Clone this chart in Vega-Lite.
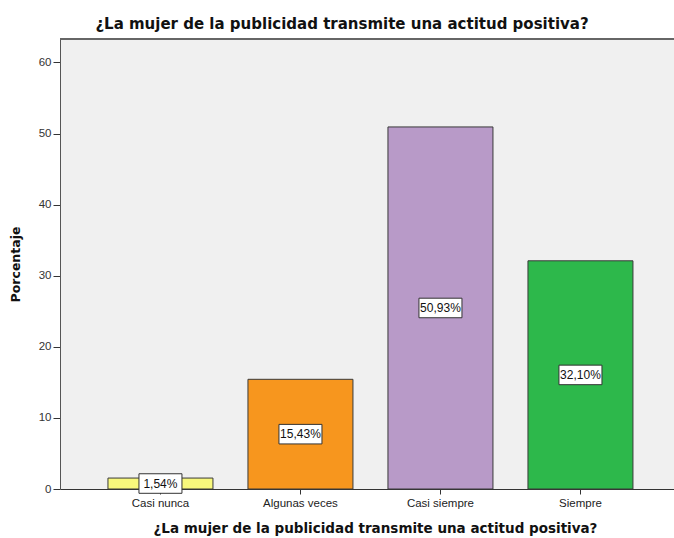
{
  "$schema": "https://vega.github.io/schema/vega-lite/v6.json",
  "autosize": "none",
  "width": 614,
  "height": 450,
  "padding": {"left": 60, "top": 39, "right": 0, "bottom": 49},
  "background": "white",
  "title": {
    "text": "¿La mujer de la publicidad transmite una actitud positiva?",
    "font": "DejaVu Sans",
    "fontSize": 15,
    "fontWeight": "bold",
    "color": "#111",
    "anchor": "middle",
    "dx": -25,
    "offset": 6
  },
  "data": {
    "values": [
      {"cat": "Casi nunca", "pct": 1.54, "label": "1,54%"},
      {"cat": "Algunas veces", "pct": 15.43, "label": "15,43%"},
      {"cat": "Casi siempre", "pct": 50.93, "label": "50,93%"},
      {"cat": "Siempre", "pct": 32.10, "label": "32,10%"}
    ]
  },
  "transform": [{"calculate": "datum.pct / 2", "as": "mid"}],
  "encoding": {
    "x": {
      "field": "cat",
      "type": "nominal",
      "sort": ["Casi nunca", "Algunas veces", "Casi siempre", "Siempre"],
      "scale": {"paddingInner": 0.25, "paddingOuter": 0.325, "align": 0.527, "range": [0, 616]},
      "axis": {
        "title": "¿La mujer de la publicidad transmite una actitud positiva?",
        "titleFont": "DejaVu Sans",
        "titleFontSize": 13.5,
        "titleFontWeight": "bold",
        "titleColor": "#111",
        "titlePadding": 13,
        "titleX": 315,
        "labelAngle": 0,
        "labelFont": "Liberation Sans",
        "labelFontSize": 11.5,
        "labelColor": "#222",
        "labelPadding": 3,
        "tickSize": 5,
        "tickColor": "#333",
        "domainColor": "#333",
        "grid": false
      }
    }
  },
  "layer": [
    {
      "mark": {"type": "bar", "stroke": "#3a3a3a", "strokeWidth": 1},
      "encoding": {
        "y": {
          "field": "pct",
          "type": "quantitative",
          "scale": {"domain": [0, 63.3], "nice": false},
          "axis": {
            "title": "Porcentaje",
            "titleFont": "DejaVu Sans",
            "titleFontSize": 12.5,
            "titleFontWeight": "bold",
            "titleColor": "#111",
            "titlePadding": 16,
            "values": [0, 10, 20, 30, 40, 50, 60],
            "labelFont": "Liberation Sans",
            "labelFontSize": 11.5,
            "labelColor": "#333",
            "labelPadding": 2,
            "tickSize": 7,
            "tickColor": "#333",
            "domainColor": "#555",
            "grid": false
          }
        },
        "color": {
          "field": "cat",
          "type": "nominal",
          "scale": {
            "domain": ["Casi nunca", "Algunas veces", "Casi siempre", "Siempre"],
            "range": ["#f8f87c", "#f7961e", "#b89ac8", "#2db84b"]
          },
          "legend": null
        }
      }
    },
    {
      "mark": {"type": "rule", "stroke": "#666", "strokeWidth": 1.5},
      "encoding": {"y": {"datum": 63.3}, "x": {"value": 0}, "x2": {"value": 614}}
    },
    {
      "mark": {
        "type": "point",
        "shape": "M-1,-0.4545L1,-0.4545L1,0.4545L-1,0.4545Z",
        "size": 1849,
        "filled": true,
        "fill": "white",
        "stroke": "#333",
        "strokeWidth": 1,
        "opacity": 1
      },
      "encoding": {
        "y": {"field": "mid", "type": "quantitative"}
      }
    },
    {
      "mark": {
        "type": "text",
        "font": "Liberation Sans",
        "fontSize": 12,
        "color": "#111",
        "baseline": "middle",
        "align": "center"
      },
      "encoding": {
        "y": {"field": "mid", "type": "quantitative"},
        "text": {"field": "label"}
      }
    }
  ],
  "config": {
    "view": {"fill": "#f0f0f0", "stroke": null}
  }
}
